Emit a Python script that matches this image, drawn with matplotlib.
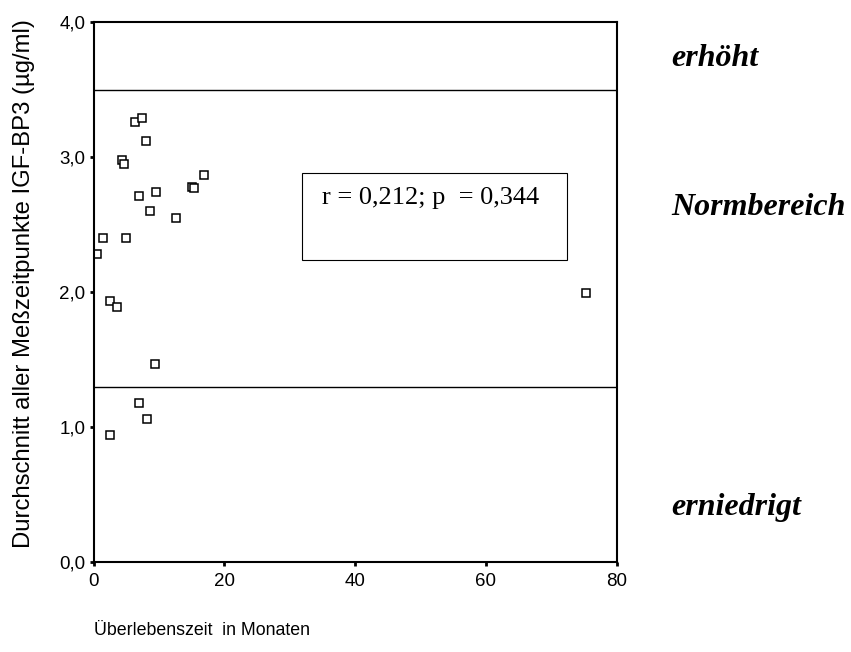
import numpy as np
import matplotlib
matplotlib.use("Agg")
import matplotlib.pyplot as plt
from matplotlib.patches import Rectangle

# survival time (months) vs. mean IGF-BP3 over all measurement points
months = [0.6, 1.4, 5.0, 2.5, 3.6, 9.4, 6.9, 8.2, 2.5, 6.3, 7.4, 8.0,
          4.4, 4.7, 16.9, 15.1, 15.3, 6.9, 9.6, 8.7, 12.6, 75.3]
igfbp3 = [2.28, 2.40, 2.40, 1.93, 1.89, 1.47, 1.18, 1.06, 0.94, 3.26, 3.29, 3.12,
          2.98, 2.95, 2.87, 2.78, 2.77, 2.71, 2.74, 2.60, 2.55, 1.99]

norm_low = 1.3
norm_high = 3.5
x_ticks = [0, 20, 40, 60, 80]
y_ticks = [0.0, 1.0, 2.0, 3.0, 4.0]
stat_text = "r = 0,212; p  = 0,344"

plt.rcParams['font.family'] = ['Liberation Sans', 'DejaVu Sans']

fig = plt.figure(figsize=(8.51, 6.52), dpi=100)
ax = fig.add_axes([0.1099, 0.138, 0.6147, 0.8282])

ax.plot(months, igfbp3, linestyle='none', marker='s', markersize=6,
        markerfacecolor='white', markeredgecolor='black', markeredgewidth=1.1)

ax.axhline(norm_high, color='black', linewidth=1)
ax.axhline(norm_low, color='black', linewidth=1)

ax.set_xlim(0, 80)
ax.set_ylim(0, 4)
ax.set_xticks(x_ticks)
ax.set_xticklabels([str(t) for t in x_ticks])
ax.set_yticks(y_ticks)
ax.set_yticklabels([f"{t:.1f}".replace('.', ',') for t in y_ticks])
ax.tick_params(axis='both', length=3, width=2, labelsize=13.5, pad=3)
ax.tick_params(axis='x', pad=5)
for s in ax.spines.values():
    s.set_linewidth(1.5)

fig.text(24 / 851, 1 - 284 / 652, "Durchschnitt aller Meßzeitpunkte IGF-BP3 (µg/ml)",
         fontsize=17.2, rotation=90, ha='center', va='center')
fig.text(0.1099, 0.033, "Überlebenszeit  in Monaten", fontsize=12.8, ha='left', va='center')

# correlation box
ax.add_patch(Rectangle((31.9, 2.24), 40.5, 0.64, fill=False, edgecolor='black', linewidth=0.8))
ax.text(34.9, 2.70, stat_text, fontsize=19, family='Liberation Serif', va='center', ha='left')

# range labels on the right
range_font = dict(fontsize=23, family='Liberation Serif', style='italic', weight='bold', va='center', ha='left')
fig.text(0.789, 1 - 58 / 652, "erhöht", **range_font)
fig.text(0.789, 1 - 208 / 652, "Normbereich", **range_font)
fig.text(0.789, 1 - 508 / 652, "erniedrigt", **range_font)

fig.savefig("out.png", dpi=100)
